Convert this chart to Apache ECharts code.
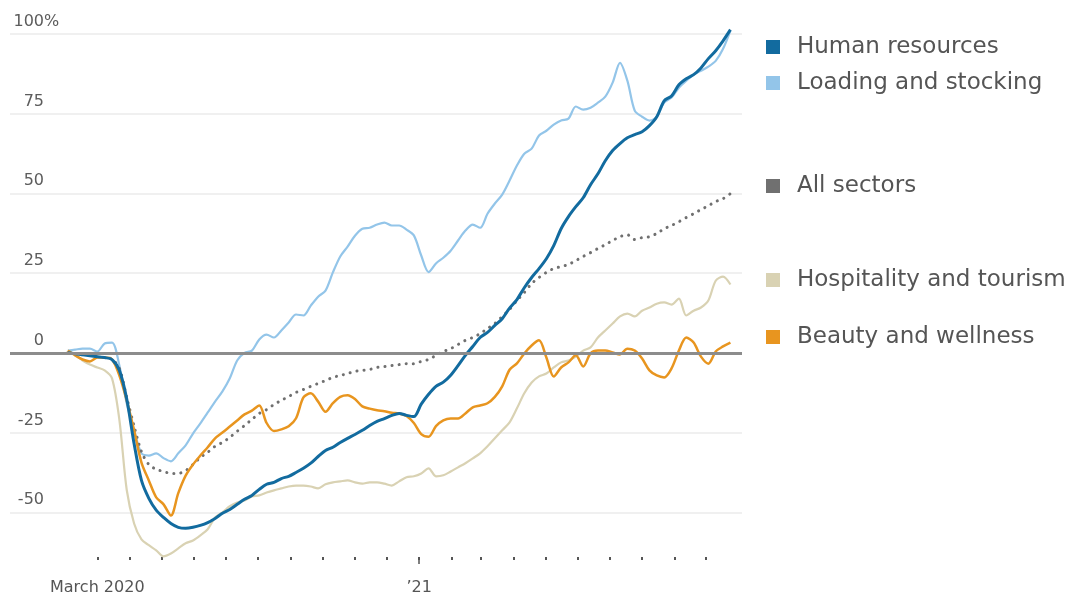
<!DOCTYPE html>
<html>
<head>
<meta charset="utf-8">
<script src="https://cdn.jsdelivr.net/npm/echarts@6/dist/echarts.min.js"></script>
<style>
  html, body { margin: 0; background: #fff; }
  #chart { width: 1070px; height: 599px; }
</style>
</head>
<body>
<div id="chart"></div>
<script>
// weekly readings, first week starting 2020-02-02
const firstWeek = '2020-02-02';

const humanResources = [
  0, -0.3, -0.6, -0.9, -1.2, -1.5, -2.1, -5.5, -14.5, -28.5,
  -40, -45.6, -49.3, -51.6, -53.5, -54.7, -55, -54.7, -54.1, -53.2,
  -51.9, -50.3, -49.1, -47.5, -45.9, -44.7, -42.8, -41.2, -40.6, -39.4,
  -38.7, -37.5, -36.2, -34.6, -32.5, -30.6, -29.6, -28.1, -26.8, -25.6,
  -24.3, -22.8, -21.5, -20.6, -19.6, -19, -19.6, -20, -16.1, -13,
  -10.5, -9.2, -7, -4, -0.8, 2, 4.8, 6.4, 8.6, 10.7,
  14, 16.7, 20.4, 23.6, 26.4, 29.5, 33.6, 38.9, 42.7, 45.8,
  48.6, 52.7, 56.1, 60.2, 63.4, 65.6, 67.4, 68.4, 69.3, 71.2,
  74, 79, 80.5, 84, 85.9, 87.2, 89.3, 92.2, 94.7, 97.8, 101.3
];

const loadingStocking = [
  0.7, 1, 1.3, 1.3, 0.4, 2.9, 3.2, -4, -15.9, -24.3,
  -31.5, -32.2, -31.5, -33, -34, -31.5, -29, -25.3, -22.1, -18.7,
  -15.3, -12.1, -8, -2.4, 0, 0.7, 4.2, 5.7, 4.8, 7,
  9.5, 12, 11.7, 14.8, 17.6, 19.5, 25.2, 30.2, 33.3, 36.7,
  38.9, 39.2, 40.2, 40.8, 39.9, 39.9, 38.6, 36.8, 30.5, 25.3,
  28, 29.8, 32, 35.2, 38.3, 40.2, 39.2, 43.6, 46.8, 49.6,
  54, 58.7, 62.4, 64, 68.1, 69.6, 71.5, 72.8, 73.4, 77.2,
  76.2, 76.8, 78.4, 80.3, 84.7, 90.9, 85.3, 75.9, 74, 72.8,
  74, 78.4, 80, 83.1, 85.3, 87.2, 88.4, 89.7, 91.5, 95.3, 101
];

const allSectors = [
  0, -0.3, -0.6, -0.9, -1.2, -1.5, -2, -4.9, -14, -23,
  -31, -35, -36.5, -37.2, -37.8, -37.8, -36.9, -35, -32.8, -31.2,
  -29.3, -28.1, -26.5, -24.6, -22.8, -20.9, -19, -17.8, -16.2, -14.9,
  -13.7, -12.4, -11.5, -10.5, -9.6, -8.7, -7.7, -7.1, -6.5, -5.8,
  -5.5, -5.2, -4.6, -4.3, -4, -3.7, -3.4, -3.4, -2.7, -2.1,
  -0.8, 0.4, 1.3, 2.6, 3.9, 4.8, 6, 7.6, 9.2, 11.4,
  13.6, 16.4, 18.9, 21.7, 23.6, 25.2, 26.4, 27, 27.7, 28.9,
  30.2, 31.4, 32.7, 33.9, 35.2, 36.4, 37, 35.5, 36.1, 36.4,
  37.4, 38.9, 39.9, 41.1, 42.4, 43.6, 44.9, 46.1, 47.4, 48.3, 49.9
];

const hospitality = [
  0.7, -0.8, -2.4, -3.7, -4.6, -5.5, -8, -21, -43, -53.5,
  -58.5, -60.3, -61.9, -63.8, -62.9, -61.3, -59.7, -58.8, -57.2, -55.3,
  -51.6, -50, -48.1, -46.9, -46.3, -45, -44.7, -43.8, -43.1, -42.5,
  -41.9, -41.6, -41.6, -41.9, -42.5, -41.2, -40.6, -40.3, -40, -40.6,
  -41, -40.6, -40.6, -41, -41.6, -40.3, -39, -38.7, -37.8, -36.2,
  -38.7, -38.4, -37.2, -35.9, -34.6, -33.1, -31.5, -29.3, -26.8, -24.3,
  -21.8, -17.4, -12.7, -9.3, -7.4, -6.5, -4.6, -3, -2.4, -1.2,
  0.7, 1.7, 4.8, 7, 9.2, 11.4, 12.3, 11.4, 13.2, 14.2,
  15.4, 15.8, 15.1, 17, 11.7, 13.2, 14.2, 16.4, 22.6, 23.9, 21.4
];

const beauty = [
  0.7, -0.8, -2.1, -2.7, -1.5, -1.5, -2.1, -7.1, -14.9, -24.3,
  -34.4, -40, -45.3, -47.5, -51, -44, -38.5, -35, -32.2, -29.6,
  -26.8, -25, -23.1, -21.2, -19.3, -18.1, -16.5, -22, -24.5, -24,
  -23, -20.5, -14, -12.7, -15.3, -18.5, -15.8, -13.8, -13.3, -14.5,
  -16.8, -17.5, -18, -18.3, -18.8, -19, -19.8, -22, -25.5, -26.3,
  -23, -21.2, -20.6, -20.6, -19, -17.1, -16.5, -15.8, -13.8, -10.5,
  -5.3, -3.3, -0.2, 2.3, 3.9, -1.5, -7.4, -4.6, -3, -0.8,
  -4.3, -0.2, 0.7, 0.7, 0.1, -0.5, 1.3, 0.7, -1.8, -5.5,
  -7.1, -7.7, -4.9, 0.7, 4.8, 3.2, -1.2, -3.4, 0.4, 2, 3.2
];

const yTicks = [-50, -25, 0, 25, 50, 75, 100];
const tickMonths = [
  '2020-03-01', '2020-04-01', '2020-05-01', '2020-06-01', '2020-07-01',
  '2020-08-01', '2020-09-01', '2020-10-01', '2020-11-01', '2020-12-01',
  '2021-01-01', '2021-02-01', '2021-03-01', '2021-04-01', '2021-05-01',
  '2021-06-01', '2021-07-01', '2021-08-01', '2021-09-01', '2021-10-01'
];
const labelMonths = ['2020-03-01', '2021-01-01'];
const labelTexts = ['March 2020', '\u201921'];
const yearTick = ['2021-01-01'];

const DAY = 864e5;
const t0 = new Date(firstWeek).getTime();
const weekDates = humanResources.map((_, i) => t0 + i * 7 * DAY);
const toTime = s => new Date(s).getTime();
const pairs = values => values.map((v, i) => [weekDates[i], v]);

const font = 'DejaVu Sans';
const axisMin = toTime('2019-12-09');
const axisMax = toTime('2021-11-04');

const chart = echarts.init(document.getElementById('chart'));

function legendFor(name, top) {
  return {
    data: [name],
    left: 766,
    top: top,
    padding: 0,
    icon: 'rect',
    itemWidth: 14,
    itemHeight: 14,
    selectedMode: false,
    itemStyle: { borderWidth: 0 },
    textStyle: {
      fontFamily: font,
      fontSize: 23,
      color: '#555',
      lineHeight: 24,
      padding: [0, 0, 0, 12]
    }
  };
}

// bare x axis used only to carry a set of ticks
function tickAxis(values, length, width) {
  return {
    type: 'value',
    min: axisMin,
    max: axisMax,
    position: 'bottom',
    axisLine: { show: false },
    splitLine: { show: false },
    axisTick: {
      show: true,
      customValues: values.map(toTime),
      length: length,
      lineStyle: { color: '#555', width: width }
    },
    axisLabel: { show: false }
  };
}

const option = {
  animation: false,
  backgroundColor: '#ffffff',
  grid: { left: 10, right: 328, top: 21, bottom: 42 },
  legend: [
    legendFor('Human resources', 35),
    legendFor('Loading and stocking', 71),
    legendFor('All sectors', 174),
    legendFor('Hospitality and tourism', 268),
    legendFor('Beauty and wellness', 325)
  ],
  xAxis: [{
    type: 'value',
    min: axisMin,
    max: axisMax,
    axisLine: { show: false },
    splitLine: { show: false },
    axisTick: { show: false },
    axisLabel: {
      customValues: labelMonths.map(toTime),
      margin: 23,
      fontFamily: font,
      fontSize: 16,
      color: '#555',
      formatter: v => {
        const i = labelMonths.map(toTime).indexOf(v);
        return i >= 0 ? labelTexts[i] : '';
      }
    }
  },
  tickAxis(tickMonths, 3, 2),
  tickAxis(yearTick, 7, 1.5)
  ],
  yAxis: {
    type: 'value',
    min: -64,
    max: 104,
    axisLine: { show: false },
    axisTick: { show: false, customValues: yTicks },
    splitLine: { lineStyle: { color: '#ebebeb', width: 1.5 } },
    axisLabel: {
      customValues: yTicks,
      inside: true,
      margin: 34,
      align: 'right',
      verticalAlign: 'bottom',
      lineHeight: 24,
      fontFamily: font,
      fontSize: 16,
      color: '#5c5c5c',
      formatter: v => (v === 100 ? '{n|100}{p|%}' : String(v)),
      rich: {
        n: { align: 'left', lineHeight: 24, fontFamily: font, fontSize: 16, color: '#5c5c5c' },
        p: { align: 'left', width: 0, lineHeight: 24, fontFamily: font, fontSize: 16, color: '#5c5c5c' }
      }
    }
  },
  series: [
    {
      name: 'Hospitality and tourism',
      type: 'line',
      data: pairs(hospitality),
      showSymbol: false,
      smooth: 0.3,
      color: '#d9d2b3',
      lineStyle: { width: 2.2 },
      markLine: {
        silent: true,
        symbol: 'none',
        label: { show: false },
        lineStyle: { color: '#8c8c8c', width: 3, type: 'solid' },
        data: [{ yAxis: 0 }]
      }
    },
    {
      name: 'Loading and stocking',
      type: 'line',
      data: pairs(loadingStocking),
      showSymbol: false,
      smooth: 0.3,
      color: '#93c5e9',
      lineStyle: { width: 2.2 }
    },
    {
      name: 'All sectors',
      type: 'line',
      data: pairs(allSectors),
      showSymbol: false,
      smooth: 0.3,
      color: '#707070',
      lineStyle: { width: 3, type: [0.1, 7], cap: 'round' }
    },
    {
      name: 'Beauty and wellness',
      type: 'line',
      data: pairs(beauty),
      showSymbol: false,
      smooth: 0.3,
      color: '#e8951f',
      lineStyle: { width: 2.5 }
    },
    {
      name: 'Human resources',
      type: 'line',
      data: pairs(humanResources),
      showSymbol: false,
      smooth: 0.3,
      color: '#126b9f',
      lineStyle: { width: 3 }
    }
  ]
};

chart.setOption(option);
</script>
</body>
</html>
